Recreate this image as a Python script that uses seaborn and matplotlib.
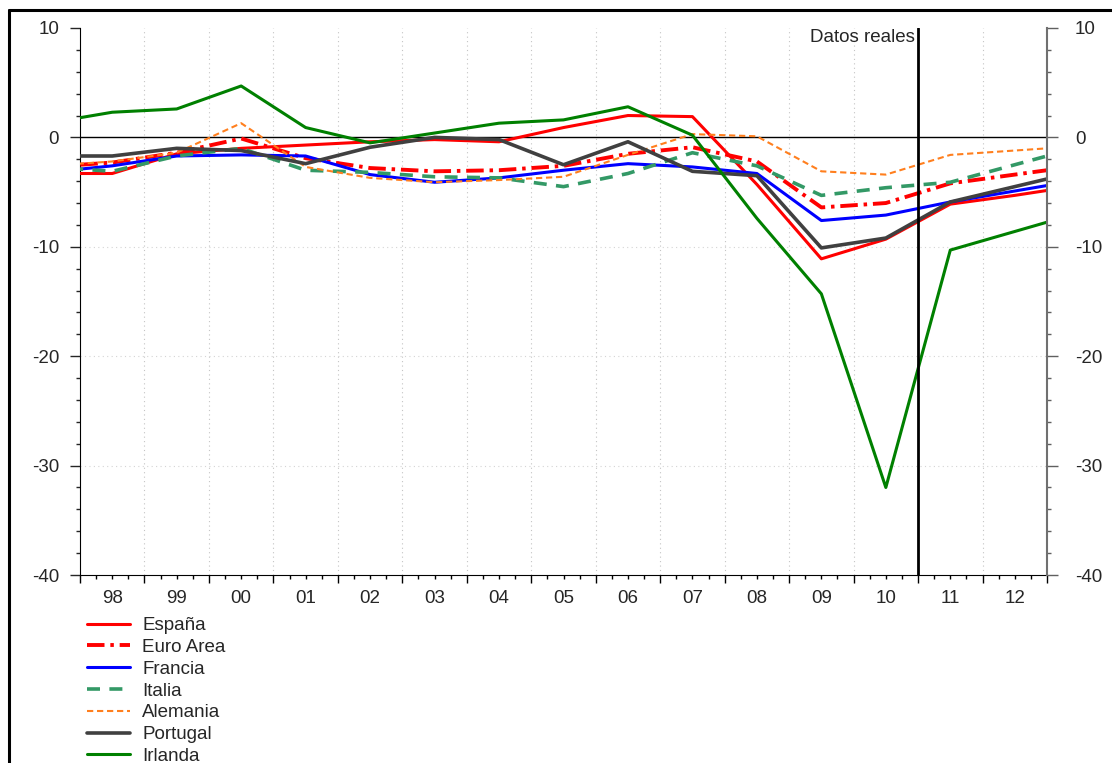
import numpy as np
import pandas as pd
import matplotlib
matplotlib.use("Agg")
import matplotlib.pyplot as plt
import seaborn as sns
from matplotlib.lines import Line2D

# data (1997 and 2013 only feed the clipped line ends)
years = list(range(1997, 2014))
year_labels = ["98", "99", "00", "01", "02", "03", "04", "05", "06", "07", "08", "09", "10", "11", "12"]

espana   = [-3.3, -3.3, -1.5, -1.0, -0.7, -0.4, -0.2, -0.4, 0.9, 2.0, 1.9, -4.3, -11.1, -9.3, -6.1, -5.3, -4.4]
euro     = [-2.7, -2.3, -1.4, -0.1, -1.9, -2.8, -3.1, -3.0, -2.6, -1.5, -0.9, -2.2, -6.4, -6.0, -4.2, -3.4, -2.6]
francia  = [-3.2, -2.6, -1.7, -1.6, -1.7, -3.4, -4.1, -3.7, -3.0, -2.4, -2.7, -3.3, -7.6, -7.1, -5.9, -4.9, -3.9]
italia   = [-2.7, -3.1, -1.7, -1.0, -3.0, -3.2, -3.6, -3.7, -4.5, -3.3, -1.4, -2.6, -5.3, -4.6, -4.1, -2.5, -0.9]
alemania = [-2.6, -2.2, -1.4, 1.3, -2.7, -3.7, -4.1, -3.9, -3.6, -1.6, 0.3, 0.1, -3.1, -3.4, -1.6, -1.2, -0.8]
portugal = [-1.7, -1.7, -1.0, -1.2, -2.4, -0.9, 0.0, -0.2, -2.5, -0.4, -3.1, -3.5, -10.1, -9.2, -5.9, -4.5, -3.1]
irlanda  = [1.3, 2.3, 2.6, 4.7, 0.9, -0.5, 0.4, 1.3, 1.6, 2.8, 0.2, -7.4, -14.3, -32.0, -10.3, -8.6, -6.9]

names = ["España", "Euro Area", "Francia", "Italia", "Alemania", "Portugal", "Irlanda"]
series = [espana, euro, francia, italia, alemania, portugal, irlanda]

df = pd.DataFrame({"Year": years * len(names),
                   "Valor": sum(series, []),
                   "Pais": sum([[n] * len(years) for n in names], [])})

# styles
styles = {"España":    dict(color="#FF0000", lw=2.2, dashes=None),
          "Euro Area": dict(color="#FF0000", lw=2.8, dashes=(4.5, 1.5, 0.9, 1.5)),
          "Francia":   dict(color="#0000FF", lw=2.2, dashes=None),
          "Italia":    dict(color="#339966", lw=2.6, dashes=(3.6, 2.6)),
          "Alemania":  dict(color="#FF7F1E", lw=1.5, dashes=(3, 1.8)),
          "Portugal":  dict(color="#404040", lw=2.6, dashes=None),
          "Irlanda":   dict(color="#008000", lw=2.2, dashes=None)}

sns.set_style("ticks")
plt.rcParams["font.family"] = ["Liberation Sans", "DejaVu Sans"]
plt.rcParams["axes.unicode_minus"] = False
fs = 13.5

fig = plt.figure(figsize=(11.12, 7.63), dpi=100)
ax = fig.add_axes([80 / 1112, 1 - 575 / 763, 967 / 1112, 547 / 763])

# grid + zero line
for b in np.arange(1998.5, 2012.5, 1):
    ax.axvline(b, color="#C4C4C4", lw=0.8, ls=(0, (1, 3)), zorder=0)
for h in [-30, -20, -10]:
    ax.axhline(h, color="#D4D4D4", lw=0.8, ls=(0, (1, 3)), zorder=0)
ax.axhline(0, color="black", lw=1.0, zorder=1)

handles = []
for n in names:
    st = styles[n]
    sub = df[df["Pais"] == n]
    sns.lineplot(data=sub, x="Year", y="Valor", ax=ax, color=st["color"],
                 lw=st["lw"], legend=False, zorder=3)
    line = ax.get_lines()[-1]
    if st["dashes"] is not None:
        line.set_dashes(st["dashes"])
    h = Line2D([], [], color=st["color"], lw=st["lw"])
    if st["dashes"] is not None:
        h.set_dashes(st["dashes"])
    handles.append(h)

ax.axvline(2010.5, color="black", lw=2, zorder=4)
ax.text(2010.45, 9.1, "Datos reales", ha="right", va="center", fontsize=fs)

ax.set_xlim(1997.5, 2012.5)
ax.set_ylim(-40, 10)

# x ticks: year boundaries long, quarters short, labels at year centres
ax.set_xticks(np.arange(1997.5, 2013, 1))
ax.set_xticklabels([""] * 16)
quarters = np.arange(1997.75, 2012.5, 0.25)
qlabels = []
for q in quarters:
    if abs(q - round(q)) < 1e-6:
        qlabels.append(year_labels[int(round(q)) - 1998])
    else:
        qlabels.append("")
ax.set_xticks(quarters, minor=True)
ax.set_xticklabels(qlabels, minor=True, fontsize=fs)
ax.tick_params(axis="x", which="major", length=6, width=1, color="black")
ax.tick_params(axis="x", which="minor", length=3, width=1, color="black", pad=8)

ax.set_yticks(np.arange(-40, 11, 10))
ax.set_yticks(np.arange(-40, 11, 2), minor=True)
ax.tick_params(axis="y", which="major", length=7, width=1, labelsize=fs, pad=8)
ax.tick_params(axis="y", which="minor", length=3, width=1)

ax.set_xlabel("")
ax.set_ylabel("")
for s in ["top", "right"]:
    ax.spines[s].set_visible(False)
ax.spines["left"].set_color("black")
ax.spines["bottom"].set_color("black")

ax2 = ax.twinx()
ax2.set_ylim(-40, 10)
ax2.set_yticks(np.arange(-40, 11, 10))
ax2.set_yticks(np.arange(-40, 11, 2), minor=True)
ax2.tick_params(axis="y", which="major", length=8, width=1, labelsize=fs, pad=12, color="#606060")
ax2.tick_params(axis="y", which="minor", length=3, width=1, color="#606060")
for s in ["top", "left", "bottom"]:
    ax2.spines[s].set_visible(False)
ax2.spines["right"].set_color("#707070")
ax2.spines["right"].set_linewidth(1.5)

fig.legend(handles, names, loc="upper left",
           bbox_to_anchor=(87 / 1112, 1 - 617 / 763), frameon=False,
           fontsize=fs, handlelength=2.3, handletextpad=0.65,
           labelspacing=0.25, borderpad=0, borderaxespad=0)

# figure frame (left and top edges only visible)
fig.add_artist(Line2D([9 / 1112, 9 / 1112], [0, 1 - 10 / 763], color="black", lw=2.2,
                      transform=fig.transFigure))
fig.add_artist(Line2D([9 / 1112, 1], [1 - 10 / 763, 1 - 10 / 763], color="black", lw=2.2,
                      transform=fig.transFigure))

fig.savefig("out.png", dpi=100)
